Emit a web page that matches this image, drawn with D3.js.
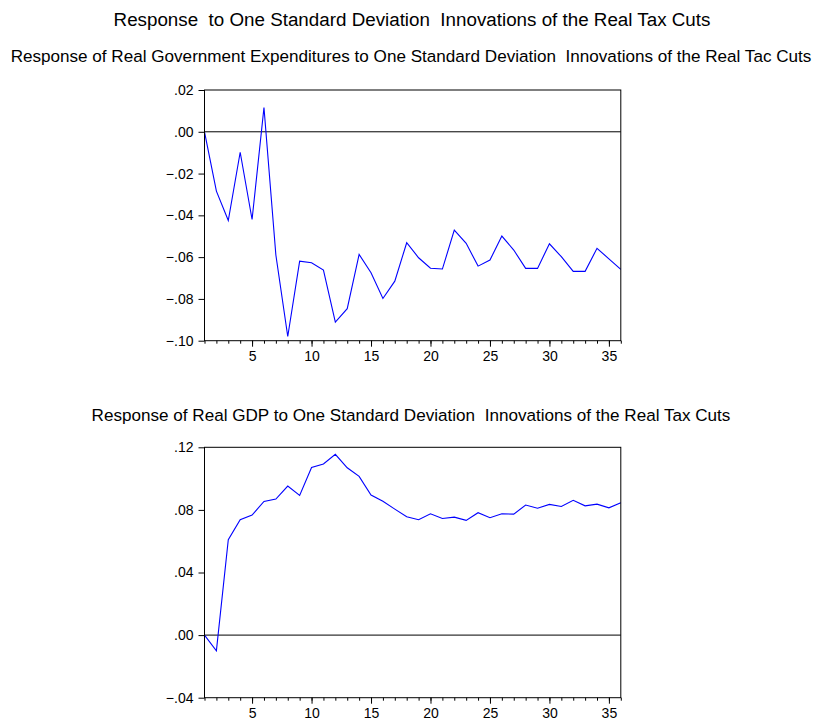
<!DOCTYPE html>
<html>
<head>
<meta charset="utf-8">
<script src="https://cdn.jsdelivr.net/npm/d3@7"></script>
<style>
  html, body { margin: 0; padding: 0; background: #fff; }
  svg { display: block; }
  text { font-family: "Liberation Sans", Arial, sans-serif; fill: #000; white-space: pre; }
</style>
</head>
<body>
<svg id="chart" width="813" height="721"></svg>
<script>
// ---- Data ----
const periods = [1,2,3,4,5,6,7,8,9,10,11,12,13,14,15,16,17,18,19,20,21,22,23,24,25,26,27,28,29,30,31,32,33,34,35,36];
const govResp = [0, -0.0284, -0.0425, -0.0098, -0.0420, 0.0116, -0.0590, -0.0980, -0.0619, -0.0627,
  -0.0662, -0.0911, -0.0847, -0.0587, -0.0675, -0.0798, -0.0715, -0.0531, -0.0603, -0.0653,
  -0.0657, -0.0471, -0.0534, -0.0643, -0.0614, -0.0499, -0.0566, -0.0654, -0.0654, -0.0536,
  -0.0598, -0.0668, -0.0668, -0.0558, -0.0608, -0.0659];
const gdpResp = [0, -0.0100, 0.0609, 0.0737, 0.0767, 0.0854, 0.0869, 0.0952, 0.0893, 0.1071,
  0.1093, 0.1155, 0.1069, 0.1014, 0.0895, 0.0855, 0.0805, 0.0756, 0.0737, 0.0775,
  0.0745, 0.0754, 0.0733, 0.0782, 0.0750, 0.0775, 0.0773, 0.0831, 0.0811, 0.0835,
  0.0822, 0.0861, 0.0826, 0.0837, 0.0813, 0.0845];
const xMajorTicks = [5, 10, 15, 20, 25, 30, 35];
const govYTicks = [0.02, 0.00, -0.02, -0.04, -0.06, -0.08, -0.10];
const gdpYTicks = [0.12, 0.08, 0.04, 0.00, -0.04];

const mainTitle = "Response  to One Standard Deviation  Innovations of the Real Tax Cuts";
const govTitle = "Response of Real Government Expenditures to One Standard Deviation  Innovations of the Real Tac Cuts";
const gdpTitle = "Response of Real GDP to One Standard Deviation  Innovations of the Real Tax Cuts";

// ---- Drawing ----
const svg = d3.select("#chart");
const left = 204.5, right = 620.8;
const cx = 412;

svg.append("text").attr("x", cx).attr("y", 26).attr("text-anchor", "middle")
  .style("font-size", "18.8px").text(mainTitle);

function fmt(v) {
  let s = d3.format(".2f")(Math.abs(v) < 1e-9 ? 0 : v);
  return s.replace("0.", ".");
}

function panel(title, titleY, values, yDomain, yTicks, top, bottom) {
  const x = d3.scaleLinear().domain([1, 36]).range([left, right]);
  const y = d3.scaleLinear().domain(yDomain).range([bottom, top]);
  const g = svg.append("g");

  g.append("text").attr("x", cx - 1).attr("y", titleY).attr("text-anchor", "middle")
    .style("font-size", "17.1px").text(title);

  // zero line
  g.append("line").attr("x1", left).attr("x2", right)
    .attr("y1", y(0)).attr("y2", y(0))
    .attr("stroke", "#000").attr("stroke-width", 1);

  // series
  const line = d3.line().x((d, i) => x(periods[i])).y(d => y(d));
  g.append("path").datum(values).attr("d", line)
    .attr("fill", "none").attr("stroke", "#0000ff").attr("stroke-width", 1.1)
    .attr("stroke-linejoin", "miter");

  // frame
  g.append("rect").attr("x", left).attr("y", top)
    .attr("width", right - left).attr("height", bottom - top)
    .attr("fill", "none").attr("stroke", "#000").attr("stroke-width", 1);

  // y axis
  const ya = d3.axisLeft(y).tickValues(yTicks).tickSize(6).tickPadding(5).tickFormat(fmt);
  const yg = g.append("g").attr("transform", `translate(${left},0)`).call(ya);
  yg.select(".domain").remove();
  yg.selectAll("text").style("font-size", "14px").style("font-family", "Liberation Sans, Arial, sans-serif");
  yg.selectAll("line").attr("stroke", "#000");

  // x axis minor ticks
  const xm = d3.axisBottom(x).tickValues(periods).tickSize(3).tickFormat("");
  const xmg = g.append("g").attr("transform", `translate(0,${bottom})`).call(xm);
  xmg.select(".domain").remove();
  // x axis major ticks
  const xa = d3.axisBottom(x).tickValues(xMajorTicks).tickSize(6).tickPadding(4.5).tickFormat(d3.format("d"));
  const xg = g.append("g").attr("transform", `translate(0,${bottom})`).call(xa);
  xg.select(".domain").remove();
  xg.selectAll("text").style("font-size", "14px").style("font-family", "Liberation Sans, Arial, sans-serif");
}

panel(govTitle, 62, govResp, [-0.10, 0.02], govYTicks, 90, 340.7);
panel(gdpTitle, 421, gdpResp, [-0.04, 0.12], gdpYTicks, 447.3, 697.7);
</script>
</body>
</html>
